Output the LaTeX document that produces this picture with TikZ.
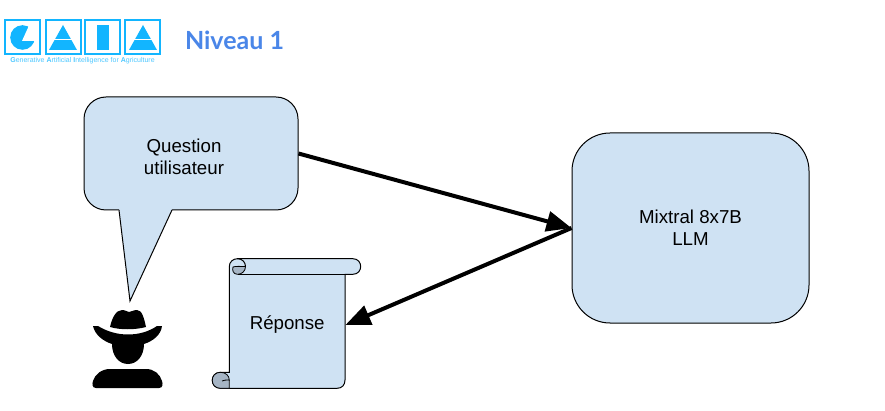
\documentclass[tikz,border=0pt]{standalone}
\usepackage{fontspec}
\setmainfont{Liberation Sans}
\newfontfamily\titlefont{Lato}
\usetikzlibrary{arrows.meta}
\definecolor{boxblue}{HTML}{CFE2F3}
\definecolor{curlblue}{HTML}{A6B5C5}
\definecolor{gaiablue}{HTML}{12B5FF}
\definecolor{titleblue}{HTML}{4A86E8}

\tikzset{
  shapebox/.style={draw=black, fill=boxblue, line width=1pt, rounded corners=#1},
  txt/.style={align=center, inner sep=0pt, font=\fontsize{18.7}{22}\selectfont},
  flow/.style={line width=4pt, -{Triangle[length=25pt,width=20pt]}},
  logoframe/.style={draw=gaiablue, line width=1.7pt, minimum width=35pt, minimum height=34pt, inner sep=0pt}
}

\begin{document}
\begin{tikzpicture}[x=1pt,y=-1pt]
\useasboundingbox (0,0) rectangle (885,411);

% logo
\foreach \name/\xc in {logog/22.5, logoa/63.5, logoi/102.5, logob/142.5}
  \node[logoframe] (\name) at (\xc,37) {};
\fill[gaiablue] (22.5,37.5) circle[radius=12.3];
\fill[white] (22,41) -- (36,41) -- (36,25.5) -- (29,25.5) -- cycle;
\foreach \xc in {63,143} {
  \fill[gaiablue] (\xc,25) -- (\xc+14,50) -- (\xc-14,50) -- cycle;
  \draw[white, line width=1pt] (\xc-10,39.5) -- (\xc+10,39.5);
}
\fill[gaiablue] (97,25) rectangle (109,50);
\node[inner sep=0pt, text=gaiablue!75, font=\fontsize{7}{8}\selectfont] (logotxt) at (82.5,61)
  {\textbf{G}enerative \textbf{A}rtificial \textbf{I}ntelligence for \textbf{A}griculture};

\node[inner sep=0pt, text=titleblue, font=\titlefont\bfseries\fontsize{25}{30}\selectfont] (niveau) at (234.5,40) {Niveau 1};

% bulle
\node[shapebox=22pt, minimum width=214pt, minimum height=113pt] (question) at (191,153.5) {};
\fill[boxblue] (119,209) -- (130,301) -- (172,209) -- cycle;
\draw[line width=1pt] (119,210) -- (130,301) -- (172,210);
\node[txt] (questiontxt) at (184,157) {Question\\utilisateur};

% LLM
\node[shapebox=38pt, minimum width=237pt, minimum height=190pt, txt] (mixtral) at (690.5,228) {Mixtral 8x7B\\LLM};

% parchemin
\draw[draw=black, fill=boxblue, line width=1pt]
  (229.3,266.5) .. controls (229.3,262) and (233,258.7) .. (237.5,258.7)
  -- (352.8,258.7) .. controls (363.3,258.7) and (363.3,274.3) .. (352.8,274.3)
  -- (345,274.3) -- (345,380) .. controls (345,385) and (342,388.3) .. (337,388.3)
  -- (220.5,388.3) .. controls (209.5,388.3) and (209.5,372.3) .. (220.5,372.3)
  -- (229.3,372.3) -- cycle;
\draw[fill=curlblue, line width=.8pt]
  (229.3,380) -- (229.3,388.3) -- (220.5,388.3) .. controls (209.5,388.3) and (209.5,372.3) .. (220.5,372.3)
  .. controls (226,372.3) and (229.3,376) .. (229.3,380) .. controls (226,380) and (224,380) .. (222,381);
\draw[fill=curlblue, line width=.8pt]
  (237.5,274.3) .. controls (233,274.3) and (232,270) .. (233,267) .. controls (236,266) and (240,266.5) .. (245.5,266.5)
  .. controls (245.5,271) and (242,274.3) .. (237.5,274.3);
\draw[line width=1pt] (237.5,258.7) .. controls (242,258.7) and (245.5,262) .. (245.5,266.5);
\draw[line width=1pt] (237.5,274.3) -- (345,274.3);
\node[inner sep=0pt, minimum width=116pt, minimum height=129.6pt, txt, yshift=-1.5pt] (reponse) at (287.2,323.5) {Réponse};

% fleches
\draw[flow] (question.east) -- (mixtral.west);
\draw[flow] (mixtral.west) -- (reponse.east);

% utilisateur
\fill (110,327) .. controls (112,318) and (116,310) .. (122,310)
  .. controls (126,310) and (127,312) .. (129,312)
  .. controls (131,312) and (133,310) .. (137,310)
  .. controls (142,310) and (144,318) .. (146,327)
  .. controls (135,330) and (120,330) .. (110,327) -- cycle;
\fill (93,326) -- (98,326) .. controls (107,331.5) and (117,334.5) .. (128,334.5)
  .. controls (139,334.5) and (149,331.5) .. (157,326) -- (162,326)
  .. controls (161,335) and (153,341) .. (144,344)
  .. controls (144,356) and (137,364) .. (128,364)
  .. controls (119,364) and (112,356) .. (112,344)
  .. controls (103,341) and (95,335) .. (93,326) -- cycle;
\fill (96,388) .. controls (92,388) and (92,384) .. (93,381)
  .. controls (95,374) and (102,369) .. (110,369) -- (146,369)
  .. controls (154,369) and (160,374) .. (162,381)
  .. controls (163,384) and (163,388) .. (159,388) -- cycle;
\end{tikzpicture}
\end{document}
